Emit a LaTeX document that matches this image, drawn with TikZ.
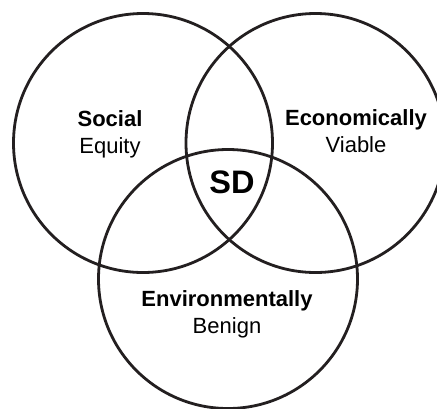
\documentclass[tikz,border=0pt]{standalone}
\usepackage{fontspec}
\setmainfont{Liberation Sans}
\usepackage{tikz}
\definecolor{ringcol}{HTML}{231F20}
\tikzset{
  ring/.style={line width=2.8pt, draw=ringcol},
  pillar/.style={align=center, anchor=base, inner sep=0pt,
    font=\fontsize{22}{27}\selectfont},
  core/.style={anchor=base, inner sep=0pt,
    font=\fontsize{32.5}{36}\selectfont\bfseries}
}

\begin{document}
\begin{tikzpicture}[x=1pt, y=-1pt]
		%%%%% START %%%%%
		
		\useasboundingbox (0, 0) rectangle (437, 408);
		
		\draw[ring] (143, 143) circle (129.5);
		\draw[ring] (315.5, 143) circle (129.5);
		\draw[ring] (228, 279) circle (129.5);
		
		\node[pillar] (social) at (110, 153) {\textbf{Social}\\Equity};
		\node[pillar] (econ) at (356, 152) {\textbf{Economically}\\Viable};
		\node[pillar] (env) at (227, 333) {\textbf{Environmentally}\\Benign};
		
		\node[core] (sd) at (232, 193) {SD};
		
		%%%%% END %%%%%
\end{tikzpicture}
\end{document}
